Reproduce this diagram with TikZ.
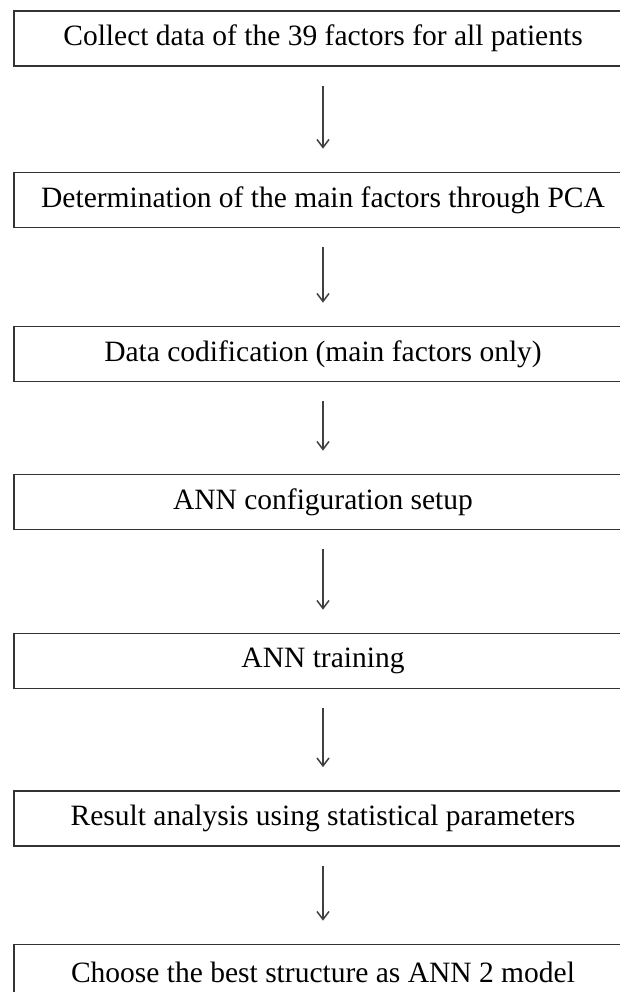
\documentclass[tikz,border=0pt]{standalone}
\usepackage{fontspec}
\setmainfont{Liberation Serif}
\usetikzlibrary{arrows.meta}
\begin{document}
\begin{tikzpicture}[x=1pt,y=-1pt,
  stepbox/.style={draw=black!80, line width=1.6pt, minimum width=618pt, minimum height=55pt,
    inner sep=0pt, font=\fontsize{29.5}{33}\selectfont, text=black},
  flow/.style={draw=black!75, line width=1.3pt, -{Straight Barb[length=8pt,width=12pt,line width=1.5pt]}}]
\useasboundingbox (0,0) rectangle (620,992);
\node[stepbox] (b1) at (323,38.5) {Collect data of the 39 factors for all patients};
\node[stepbox] (b2) at (323,200) {Determination of the main factors through PCA};
\node[stepbox] (b3) at (323,354) {Data codification (main factors only)};
\node[stepbox] (b4) at (323,502) {ANN configuration setup};
\node[stepbox] (b5) at (323,661) {ANN training};
\node[stepbox] (b6) at (323,818.5) {Result analysis using statistical parameters};
\node[stepbox] (b7) at (323,972) {Choose the best structure as ANN 2 model};
\foreach \a/\b in {b1/b2,b2/b3,b3/b4,b4/b5,b5/b6,b6/b7}
  \draw[flow] ([yshift=-19pt]\a.south) -- ([yshift=23pt]\b.north);
\end{tikzpicture}
\end{document}
